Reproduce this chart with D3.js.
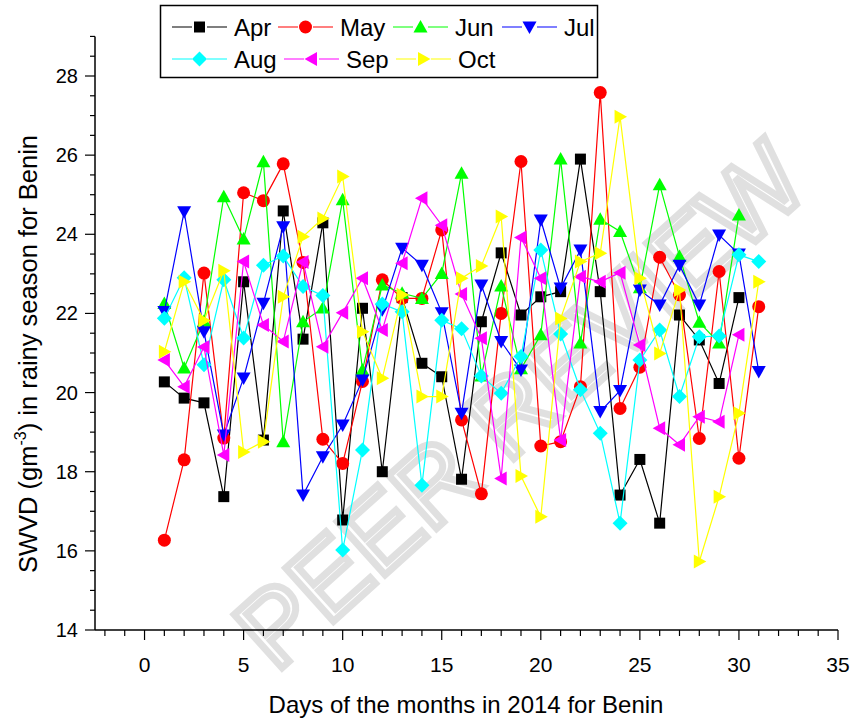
<!DOCTYPE html>
<html>
<head>
<meta charset="utf-8">
<script src="https://cdn.jsdelivr.net/npm/d3@7"></script>
<style>
  body { margin: 0; background: #fff; }
  svg { display: block; font-family: "Liberation Sans", Arial, sans-serif; }
</style>
</head>
<body>
<svg id="chart" width="856" height="721"></svg>
<script>
// ---------------- DATA ----------------
const days = d3.range(1, 32);
const monthNames = ["Apr", "May", "Jun", "Jul", "Aug", "Sep", "Oct"];
const xTicks = [0, 5, 10, 15, 20, 25, 30, 35];
const yTicks = [14, 16, 18, 20, 22, 24, 26, 28];

const apr = [20.27, 19.86, 19.74, 17.37, 22.80, 18.80, 24.59, 21.35, 24.29, 16.78,
             22.13, 18.00, 22.40, 20.74, 20.40, 17.81, 21.79, 23.53, 21.96, 22.42,
             22.55, 25.90, 22.55, 17.41, 18.31, 16.70, 21.96, 21.33, 20.23, 22.40];
const may = [16.27, 18.30, 23.02, 18.85, 25.05, 24.85, 25.78, 23.29, 18.82, 18.21,
             20.28, 22.85, 22.38, 22.38, 24.11, 19.31, 17.44, 22.00, 25.84, 18.65,
             18.76, 20.15, 27.58, 19.60, 20.64, 23.42, 22.47, 18.84, 23.06, 18.34, 22.17];
const jun = [22.25, 20.62, 21.80, 24.95, 23.88, 25.83, 18.76, 21.79, 22.14, 24.87,
             20.57, 22.72, 22.51, 22.38, 23.01, 25.54, 20.42, 22.69, 20.60, 21.46,
             25.90, 21.25, 24.38, 24.07, 22.65, 25.25, 23.44, 21.78, 21.25, 24.49];
const jul = [22.05, 24.57, 21.54, 18.93, 20.37, 22.26, 24.19, 17.41, 18.38, 19.18,
             20.32, 22.09, 23.65, 23.22, 22.02, 19.48, 22.72, 21.29, 20.57, 24.36,
             22.64, 23.60, 19.52, 20.05, 22.59, 22.21, 23.22, 22.21, 23.98, 23.50, 20.53];
const aug = [21.88, 22.90, 20.70, 22.85, 21.38, 23.22, 23.45, 22.68, 22.45, 16.02,
             18.55, 22.24, 22.04, 17.66, 21.83, 21.61, 20.42, 19.98, 20.91, 23.60,
             21.48, 20.07, 18.97, 16.70, 20.82, 21.58, 19.90, 21.41, 21.43, 23.48, 23.31];
const sep = [20.82, 20.15, 21.15, 18.42, 23.31, 21.71, 21.29, 23.30, 21.16, 22.02,
             22.89, 21.58, 23.27, 24.91, 24.23, 22.49, 21.37, 17.83, 23.92, 22.89,
             18.80, 22.93, 22.80, 23.03, 21.20, 19.10, 18.68, 19.39, 19.26, 21.46];
const oct = [21.03, 22.80, 21.82, 23.08, 18.50, 18.76, 22.42, 23.94, 24.40, 25.46,
             21.54, 20.36, 22.47, 19.90, 19.90, 22.89, 23.20, 24.45, 17.89, 16.86,
             21.87, 23.31, 23.52, 26.97, 22.89, 20.99, 22.59, 15.73, 17.37, 19.48, 22.80];

const seriesValues = [apr, may, jun, jul, aug, sep, oct];
const colors = ["#000000", "#ff0000", "#00ff00", "#0000ff", "#00ffff", "#ff00ff", "#ffff00"];
const shapes = ["square", "circle", "up", "down", "diamond", "left", "right"];

// ---------------- LAYOUT ----------------
const svg = d3.select("#chart");
const x = d3.scaleLinear().domain([-2.5, 35]).range([95, 838]);
const y = d3.scaleLinear().domain([14, 28]).range([630, 76]);
const yTop = 29;

function markerPath(shape) {
  switch (shape) {
    case "square": return "M-5.5,-5.5h11v11h-11Z";
    case "up": return "M0,-7L7,5.5L-7,5.5Z";
    case "down": return "M0,7L7,-5.5L-7,-5.5Z";
    case "diamond": return "M0,-7.5L7.5,0L0,7.5L-7.5,0Z";
    case "left": return "M-7,0L5.5,-7L5.5,7Z";
    case "right": return "M7,0L-5.5,-7L-5.5,7Z";
  }
  return null;
}
function drawMarker(g, shape, color, cx, cy) {
  if (shape === "circle") {
    g.append("circle").attr("cx", cx).attr("cy", cy).attr("r", 6.5).attr("fill", color);
  } else {
    g.append("path").attr("d", markerPath(shape))
      .attr("transform", `translate(${cx},${cy})`).attr("fill", color);
  }
}

// ---------------- WATERMARK ----------------
svg.append("text")
  .attr("transform", "translate(520,405) rotate(-42)")
  .attr("text-anchor", "middle")
  .attr("dominant-baseline", "central")
  .attr("font-size", 104)
  .attr("fill", "none")
  .attr("stroke", "#e0e0e0")
  .attr("stroke-width", 7)
  .text("PEER REVIEW");

// ---------------- AXES ----------------
const axisG = svg.append("g").attr("stroke", "#000").attr("fill", "none");
axisG.append("line").attr("x1", 95).attr("x2", 95).attr("y1", y(yTop)).attr("y2", 630).attr("stroke-width", 1.5);
axisG.append("line").attr("x1", 95).attr("x2", 838).attr("y1", 630).attr("y2", 630).attr("stroke-width", 1.5);

const yMinor = d3.range(14, 29.01, 0.5);
yMinor.forEach(v => {
  const major = yTicks.includes(v);
  axisG.append("line").attr("x1", 95).attr("x2", major ? 85 : 90)
    .attr("y1", y(v)).attr("y2", y(v)).attr("stroke-width", 1.2);
});
svg.append("g").selectAll("text").data(yTicks).join("text")
  .attr("x", 78).attr("y", d => y(d)).attr("dy", "0.35em")
  .attr("text-anchor", "end").attr("font-size", 20).attr("fill", "#000")
  .text(d => d);

const xMinor = d3.range(-2, 35.01, 1);
xMinor.forEach(v => {
  const major = xTicks.includes(v);
  axisG.append("line").attr("x1", x(v)).attr("x2", x(v))
    .attr("y1", 630).attr("y2", major ? 640 : 636).attr("stroke-width", 1.2);
});
svg.append("g").selectAll("text").data(xTicks).join("text")
  .attr("x", d => x(d)).attr("y", 672)
  .attr("text-anchor", "middle").attr("font-size", 21).attr("fill", "#000")
  .text(d => d);

svg.append("text").attr("x", 466).attr("y", 713).attr("text-anchor", "middle")
  .attr("font-size", 24).attr("fill", "#000")
  .text("Days of the months in 2014 for Benin");

const yt = svg.append("text").attr("transform", "translate(37,354) rotate(-90)")
  .attr("text-anchor", "middle").attr("font-size", 25.5).attr("fill", "#000");
yt.append("tspan").text("SWVD (gm");
yt.append("tspan").attr("font-size", 16).attr("dy", -11).text("-3");
yt.append("tspan").attr("dy", 11).text(") in rainy season for Benin");

// ---------------- SERIES ----------------
const line = d3.line().x(d => x(d[0])).y(d => y(d[1]));
seriesValues.forEach((vals, i) => {
  const pts = vals.map((v, k) => [days[k], v]);
  const g = svg.append("g");
  g.append("path").attr("d", line(pts)).attr("fill", "none")
    .attr("stroke", colors[i]).attr("stroke-width", 1.2);
  pts.forEach(p => drawMarker(g, shapes[i], colors[i], x(p[0]), y(p[1])));
});

// ---------------- LEGEND ----------------
const lg = svg.append("g");
lg.append("rect").attr("x", 160.5).attr("y", 5.5).attr("width", 437).attr("height", 72)
  .attr("fill", "#fff").attr("stroke", "#000").attr("stroke-width", 1.5);
const legendPos = [
  {lx: 172, ty: 27}, {lx: 278, ty: 27}, {lx: 393, ty: 27}, {lx: 502, ty: 27},
  {lx: 172, ty: 59}, {lx: 284, ty: 59}, {lx: 396, ty: 59}
];
monthNames.forEach((name, i) => {
  const p = legendPos[i];
  lg.append("line").attr("x1", p.lx).attr("x2", p.lx + 55).attr("y1", p.ty).attr("y2", p.ty)
    .attr("stroke", colors[i]).attr("stroke-width", 1.2);
  lg.append("rect").attr("x", p.lx + 20).attr("y", p.ty - 1).attr("width", 15).attr("height", 2).attr("fill", "#fff");
  drawMarker(lg, shapes[i], colors[i], p.lx + 27.5, p.ty);
  lg.append("text").attr("x", p.lx + 62).attr("y", p.ty).attr("dy", "0.36em")
    .attr("font-size", 24).attr("fill", "#000").text(name);
});
</script>
</body>
</html>
